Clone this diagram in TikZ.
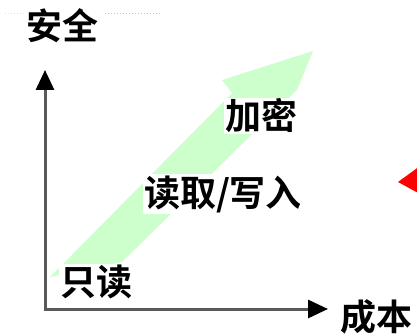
\documentclass[tikz,border=0pt]{standalone}
\usepackage{fontspec}
\newfontfamily\cjk{Noto Sans CJK SC}[BoldFont={Noto Sans CJK SC Bold}]
\usetikzlibrary{arrows.meta}
\definecolor{lgreen}{RGB}{204,255,204}
\begin{document}
\begin{tikzpicture}[x=1pt,y=-1pt,
  lbl/.style={font=\cjk\bfseries\fontsize{36}{36}\selectfont, fill=white, inner sep=1pt},
  axisline/.style={draw=black!65, line width=3pt, -{Triangle[length=20pt,width=18pt,color=black]}}]
\useasboundingbox (0,0) rectangle (417,336);
\clip (0,0) rectangle (417,336);
% faint dotted marks at top
\draw[yellow!60!gray!50, dotted, line width=1pt] (5,14) -- (25,14);
\draw[cyan!45, dotted, line width=1pt] (105,14) -- (160,14);
% green block arrow
\fill[lgreen] (50,277) -- (232,93) -- (222,80) -- (313,51) -- (297,90) -- (122,262) -- cycle;
% red triangle at right edge
\fill[red] (398,182) -- (420,166) -- (420,194) -- cycle;
% axes
\coordinate (O) at (45,309);
\coordinate (Ytip) at (45,70);
\coordinate (Xtip) at (328,309);
\draw[axisline] ([yshift=-1.5pt]O) -- (Ytip);
\draw[axisline] ([xshift=-1.5pt]O) -- (Xtip);
% labels
\node[lbl] (anquan) at (62,26) {安全};
\node[lbl] (chengben) at (376,317) {成本};
\node[lbl] (zhidu) at (96,282) {只读};
\node[lbl] (duxie) at (223,194) {读取/写入};
\node[lbl] (jiami) at (261,116) {加密};
\end{tikzpicture}
\end{document}
